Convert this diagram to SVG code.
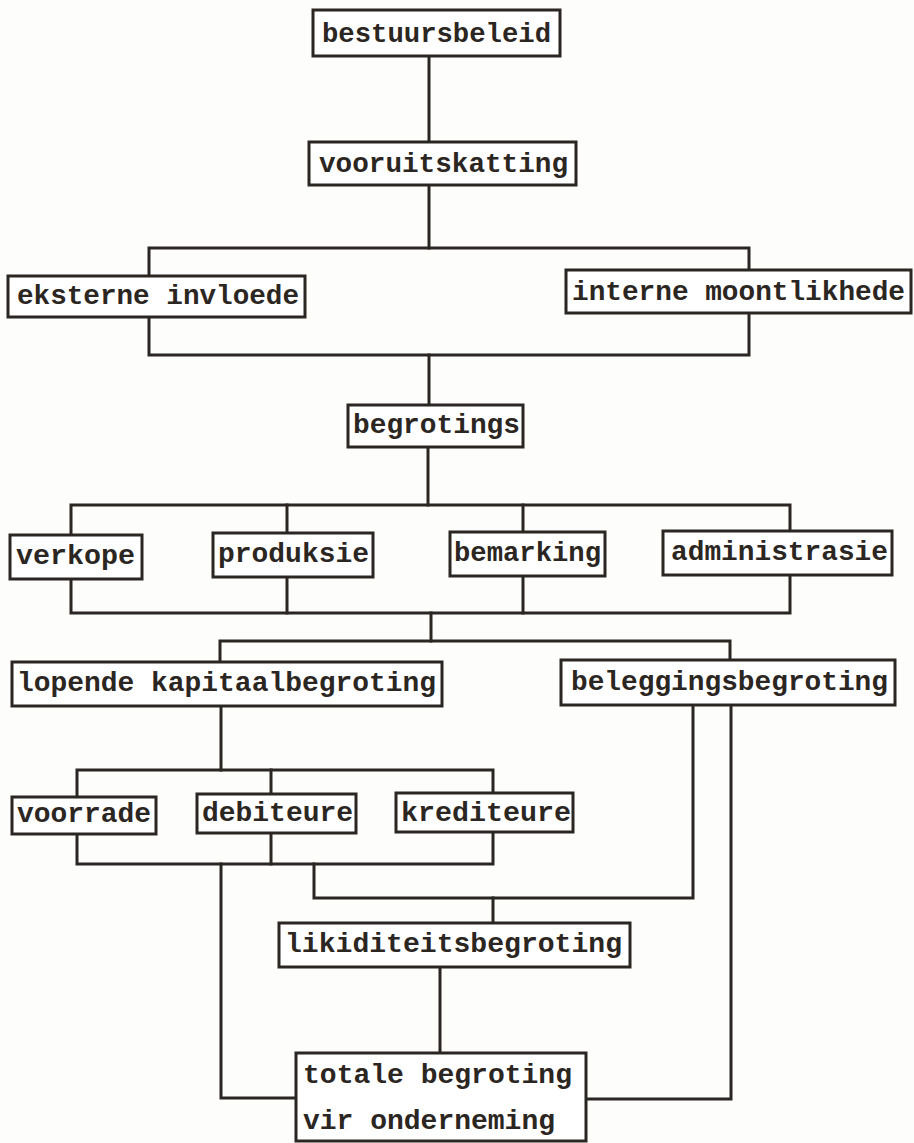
<svg xmlns="http://www.w3.org/2000/svg" width="914" height="1143" viewBox="0 0 914 1143">
<style>
.box{fill:#ffffff;stroke:#2b2622;stroke-width:3}
.lbl{font-family:"Liberation Mono","Courier New",monospace;font-size:28px;font-weight:bold;fill:#2b2622}
.con{fill:none;stroke:#2b2622;stroke-width:3;stroke-linejoin:miter;stroke-linecap:square}
</style>
<rect x="0" y="0" width="914" height="1143" fill="#fdfdfc"/>
<g id="connectors">
<path class="con" d="M429 56 V142"/>
<path class="con" d="M429 185 V248"/>
<path class="con" d="M149 276 V248 H749 V270"/>
<path class="con" d="M149 317 V355 H749 V313"/>
<path class="con" d="M429 355 V405"/>
<path class="con" d="M428 447 V505"/>
<path class="con" d="M71 535 V505 H790 V531"/>
<path class="con" d="M287 505 V533"/>
<path class="con" d="M523 505 V532"/>
<path class="con" d="M71 579 V613 H790 V575"/>
<path class="con" d="M287 577 V613"/>
<path class="con" d="M523 576 V613"/>
<path class="con" d="M431 613 V641"/>
<path class="con" d="M220 662 V641 H730 V660"/>
<path class="con" d="M221 706 V770"/>
<path class="con" d="M77 797 V770 H493 V793"/>
<path class="con" d="M271 770 V794"/>
<path class="con" d="M77 834 V864 H493 V832"/>
<path class="con" d="M271 833 V864"/>
<path class="con" d="M221 864 V1098 H296"/>
<path class="con" d="M314 864 V898 H693 V705"/>
<path class="con" d="M493 898 V923"/>
<path class="con" d="M440 967 V1053"/>
<path class="con" d="M731 705 V1099 H586"/>
</g>
<g id="bestuursbeleid"><rect class="box" x="313" y="10" width="247" height="46"/><text class="lbl" x="322" y="42" textLength="229" lengthAdjust="spacingAndGlyphs">bestuursbeleid</text></g>
<g id="vooruitskatting"><rect class="box" x="309" y="142" width="267" height="43"/><text class="lbl" x="319" y="172" textLength="249" lengthAdjust="spacingAndGlyphs">vooruitskatting</text></g>
<g id="eksterne-invloede"><rect class="box" x="8" y="276" width="297" height="41"/><text class="lbl" x="17" y="304" textLength="282" lengthAdjust="spacingAndGlyphs">eksterne invloede</text></g>
<g id="interne-moontlikhede"><rect class="box" x="566" y="270" width="345" height="43"/><text class="lbl" x="572" y="300" textLength="333" lengthAdjust="spacingAndGlyphs">interne moontlikhede</text></g>
<g id="begrotings"><rect class="box" x="348" y="405" width="175" height="42"/><text class="lbl" x="353" y="433" textLength="167" lengthAdjust="spacingAndGlyphs">begrotings</text></g>
<g id="verkope"><rect class="box" x="10" y="535" width="132" height="44"/><text class="lbl" x="16" y="564" textLength="119" lengthAdjust="spacingAndGlyphs">verkope</text></g>
<g id="produksie"><rect class="box" x="213" y="533" width="160" height="44"/><text class="lbl" x="218" y="562" textLength="151" lengthAdjust="spacingAndGlyphs">produksie</text></g>
<g id="bemarking"><rect class="box" x="450" y="532" width="155" height="44"/><text class="lbl" x="454" y="561" textLength="147" lengthAdjust="spacingAndGlyphs">bemarking</text></g>
<g id="administrasie"><rect class="box" x="663" y="531" width="229" height="44"/><text class="lbl" x="671" y="560" textLength="217" lengthAdjust="spacingAndGlyphs">administrasie</text></g>
<g id="lopende-kapitaalbegroting"><rect class="box" x="12" y="662" width="430" height="44"/><text class="lbl" x="17" y="691" textLength="419" lengthAdjust="spacingAndGlyphs">lopende kapitaalbegroting</text></g>
<g id="beleggingsbegroting"><rect class="box" x="561" y="660" width="334" height="45"/><text class="lbl" x="571" y="690" textLength="317" lengthAdjust="spacingAndGlyphs">beleggingsbegroting</text></g>
<g id="voorrade"><rect class="box" x="12" y="797" width="144" height="37"/><text class="lbl" x="17" y="822" textLength="134" lengthAdjust="spacingAndGlyphs">voorrade</text></g>
<g id="debiteure"><rect class="box" x="197" y="794" width="159" height="39"/><text class="lbl" x="202" y="821" textLength="151" lengthAdjust="spacingAndGlyphs">debiteure</text></g>
<g id="krediteure"><rect class="box" x="396" y="793" width="177" height="39"/><text class="lbl" x="401" y="821" textLength="170" lengthAdjust="spacingAndGlyphs">krediteure</text></g>
<g id="likiditeitsbegroting"><rect class="box" x="279" y="923" width="351" height="44"/><text class="lbl" x="285" y="952" textLength="337" lengthAdjust="spacingAndGlyphs">likiditeitsbegroting</text></g>
<g id="totale-begroting"><rect class="box" x="296" y="1053" width="290" height="88"/><text class="lbl" x="303" y="1083" textLength="269" lengthAdjust="spacingAndGlyphs">totale begroting</text><text class="lbl" x="303" y="1129" textLength="252" lengthAdjust="spacingAndGlyphs">vir onderneming</text></g>
</svg>
